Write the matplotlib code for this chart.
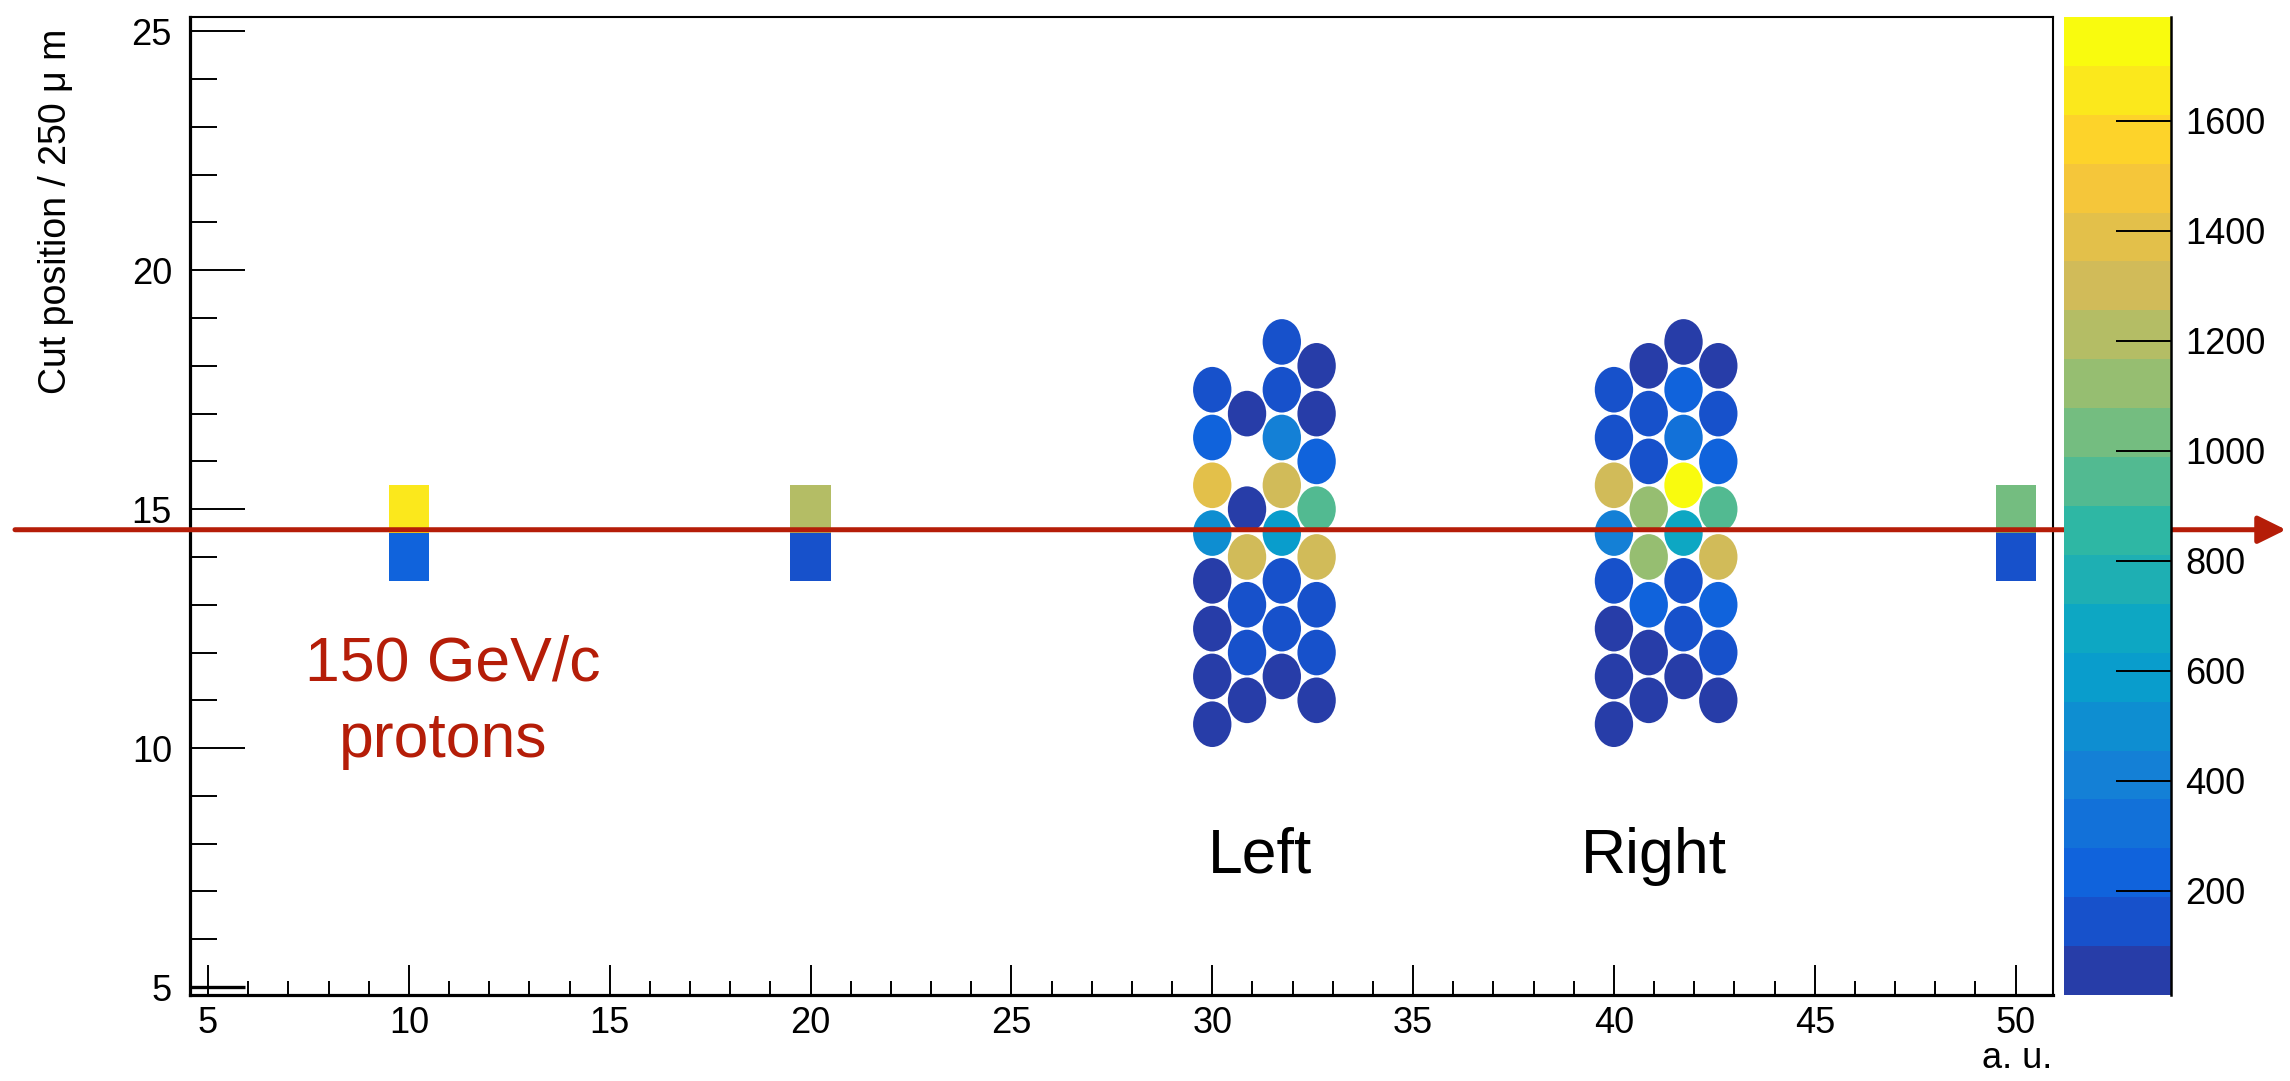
import numpy as np
import matplotlib
matplotlib.use("Agg")
import matplotlib.pyplot as plt
from matplotlib.colors import LinearSegmentedColormap, ListedColormap, Normalize
from matplotlib.patches import Ellipse, Rectangle
from matplotlib.collections import PatchCollection
from matplotlib.ticker import MultipleLocator
from matplotlib.cm import ScalarMappable
from matplotlib.lines import Line2D

plt.rcParams["font.family"] = ["Liberation Sans", "DejaVu Sans"]

# ---- single bar channels: position, cut position, counts ----
bar_x = [10, 10, 20, 20, 50, 50]
bar_y = [15, 14, 15, 14, 15, 14]
bar_counts = [1656, 232, 1211, 143, 1033, 143]

# ---- "Left" fibre bundle (hexagonal packing, four columns) ----
left_x = [30.0] * 8 + [30.866] * 6 + [31.732] * 8 + [32.598] * 8
left_y = [17.5, 16.5, 15.5, 14.5, 13.5, 12.5, 11.5, 10.5,
          17, 15, 14, 13, 12, 11,
          18.5, 17.5, 16.5, 15.5, 14.5, 13.5, 12.5, 11.5,
          18, 17, 16, 15, 14, 13, 12, 11]
left_counts = [147, 229, 1402, 505, 49, 26, 61, 18,
               44, 80, 1296, 139, 150, 37,
               145, 133, 415, 1308, 590, 157, 126, 52,
               30, 68, 240, 938, 1320, 142, 136, 45]

# ---- "Right" fibre bundle ----
right_x = [40.0] * 8 + [40.866] * 8 + [41.732] * 8 + [42.598] * 8
right_y = [17.5, 16.5, 15.5, 14.5, 13.5, 12.5, 11.5, 10.5,
           18, 17, 16, 15, 14, 13, 12, 11,
           18.5, 17.5, 16.5, 15.5, 14.5, 13.5, 12.5, 11.5,
           18, 17, 16, 15, 14, 13, 12, 11]
right_counts = [152, 138, 1315, 402, 121, 58, 33, 10,
                47, 131, 160, 1118, 1135, 226, 71, 22,
                66, 241, 318, 1789, 672, 147, 119, 40,
                35, 155, 218, 951, 1290, 236, 128, 28]

x_ticks = [5, 10, 15, 20, 25, 30, 35, 40, 45, 50]
y_ticks = [5, 10, 15, 20, 25]
z_ticks = [200, 400, 600, 800, 1000, 1200, 1400, 1600]
beam_y = 14.57

fibre_diameter = 0.955
bar_width = 1.0
bar_height = 1.0

# ---- ROOT "kBird" palette, 20 contour levels ----
bird_stops = [0.0, 0.125, 0.25, 0.375, 0.5, 0.625, 0.75, 0.875, 1.0]
bird_r = [0.2082, 0.0592, 0.0780, 0.0232, 0.1802, 0.5301, 0.8186, 0.9956, 0.9764]
bird_g = [0.1664, 0.3599, 0.5041, 0.6419, 0.7178, 0.7492, 0.7328, 0.7862, 0.9832]
bird_b = [0.5293, 0.8684, 0.8385, 0.7914, 0.6425, 0.4662, 0.3499, 0.1968, 0.0539]
bird = LinearSegmentedColormap.from_list(
    "bird", list(zip(bird_stops, zip(bird_r, bird_g, bird_b))), N=255)
n_levels = 20
level_pos = [int((k + 0.99) * 255 / n_levels) / 254 for k in range(n_levels)]
cmap = ListedColormap([bird(p) for p in level_pos])
norm = Normalize(vmin=10, vmax=1789)

W, H = 2290, 1081
fig = plt.figure(figsize=(W / 100, H / 100), dpi=100)
ax = fig.add_axes([190 / W, 1 - 995 / H, (2053 - 190) / W, (995 - 17) / H])
ax.set_xlim(4.552, 50.93)
ax.set_ylim(4.833, 25.30)

patches, values = [], []
for x, y, c in zip(bar_x, bar_y, bar_counts):
    patches.append(Rectangle((x - bar_width / 2, y - bar_height / 2), bar_width, bar_height))
    values.append(c)
for xs, ys, cs in ((left_x, left_y, left_counts), (right_x, right_y, right_counts)):
    for x, y, c in zip(xs, ys, cs):
        patches.append(Ellipse((x, y), fibre_diameter, fibre_diameter))
        values.append(c)
coll = PatchCollection(patches, cmap=cmap, norm=norm, edgecolor="none", linewidth=0)
coll.set_array(np.asarray(values, dtype=float))
ax.add_collection(coll)

# axes frame and ticks
ax.xaxis.set_major_locator(MultipleLocator(5))
ax.xaxis.set_minor_locator(MultipleLocator(1))
ax.yaxis.set_major_locator(MultipleLocator(5))
ax.yaxis.set_minor_locator(MultipleLocator(1))
ax.set_xticks(x_ticks)
ax.set_yticks(y_ticks)
ax.tick_params(axis="x", which="major", direction="in", length=21.5, width=1.4,
               labelsize=26, pad=8)
ax.tick_params(axis="x", which="minor", direction="in", length=10, width=1.4)
ax.tick_params(axis="y", which="major", direction="in", length=39.5, width=1.4,
               labelsize=26, pad=13)
ax.tick_params(axis="y", which="minor", direction="in", length=19.5, width=1.4)
ax.yaxis.get_major_ticks()[0].tick1line.set_markeredgewidth(2.4)
for side in ("left", "bottom"):
    ax.spines[side].set_linewidth(2.3)
for side in ("top", "right"):
    ax.spines[side].set_linewidth(1.5)

fig.text(56 / W, 1 - 29 / H, "Cut position / 250 \u03bc m", rotation=90,
         ha="center", va="top", fontsize=27)
fig.text(2052 / W, 1 - 1058 / H, "a. u.", ha="right", va="center", fontsize=26)

# annotations
red = "#B51D08"
ax.text(11.1, 11.42, "150 GeV/c", color=red, fontsize=45, ha="center", va="baseline")
ax.text(10.85, 9.81, "protons", color=red, fontsize=45, ha="center", va="baseline")
ax.text(31.18, 7.39, "Left", color="black", fontsize=45, ha="center", va="baseline")
ax.text(41.0, 7.39, "Right", color="black", fontsize=45, ha="center", va="baseline")

# colour scale
cax = fig.add_axes([2064 / W, 1 - 995 / H, (2171 - 2064) / W, (995 - 17) / H])
cb = fig.colorbar(ScalarMappable(norm=norm, cmap=cmap), cax=cax, ticks=z_ticks)
cb.outline.set_visible(False)
cax.tick_params(axis="y", which="major", direction="in", length=39.5, width=1.4,
                labelsize=26, pad=10, right=True, left=False)
cax.tick_params(axis="y", which="minor", length=0)
cax.add_line(Line2D([1, 1], [0, 1], transform=cax.transAxes, color="black",
                    lw=1.8, clip_on=False))

# beam direction arrow across the whole canvas
ax.annotate("", xy=(2286 / W, beam_y), xycoords=("figure fraction", "data"),
            xytext=(15 / W, beam_y), textcoords=("figure fraction", "data"),
            arrowprops=dict(arrowstyle="-|>,head_length=0.85,head_width=0.42",
                            mutation_scale=20, lw=3.6, color=red,
                            shrinkA=0, shrinkB=0),
            annotation_clip=False, zorder=10)

fig.savefig("out.png", dpi=100)
